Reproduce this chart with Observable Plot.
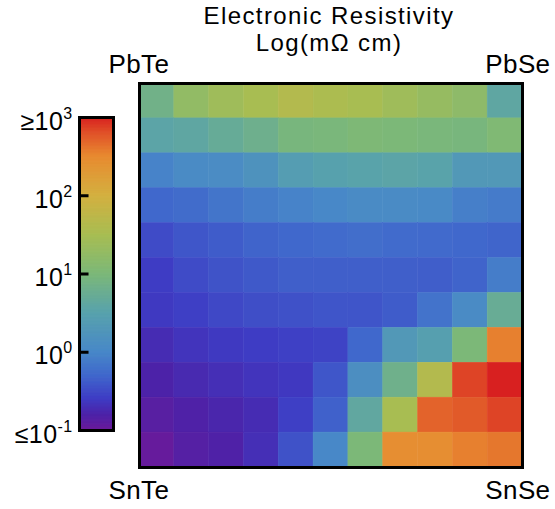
<!DOCTYPE html>
<html>
<head>
<meta charset="utf-8">
<script src="https://cdn.jsdelivr.net/npm/d3@7"></script>
<script src="https://cdn.jsdelivr.net/npm/@observablehq/plot@0.6"></script>
<style>
  body { margin: 0; background: #fff; }
  #wrap { position: relative; width: 555px; height: 509px; }
  #wrap svg { position: absolute; left: 0; top: 0; }
  #wrap text { letter-spacing: 0.4px; }
  #wrap text.title-text { letter-spacing: 1.4px; }
</style>
</head>
<body>
<div id="wrap"></div>
<script>
// Log10 resistivity (mΩ cm); rows: PbTe→SnTe (top→bottom), columns: Te→Se (left→right)
const row0  = [0.85, 1.25, 1.4, 1.5, 1.62, 1.55, 1.5, 1.4, 1.3, 1.2, 0.6];
const row1  = [0.55, 0.6, 0.7, 0.8, 0.95, 0.97, 1.02, 1.0, 0.97, 0.95, 1.05];
const row2  = [-0.05, 0.05, 0.08, 0.2, 0.4, 0.48, 0.52, 0.55, 0.52, 0.3, 0.3];
const row3  = [-0.3, -0.26, -0.18, -0.1, -0.05, 0.0, 0.05, 0.05, 0.03, -0.08, -0.12];
const row4  = [-0.5, -0.42, -0.38, -0.33, -0.3, -0.27, -0.24, -0.27, -0.28, -0.3, -0.32];
const row5  = [-0.6, -0.5, -0.44, -0.4, -0.36, -0.36, -0.36, -0.36, -0.37, -0.33, -0.1];
const row6  = [-0.62, -0.58, -0.52, -0.48, -0.46, -0.43, -0.43, -0.38, -0.2, 0.05, 0.72];
const row7  = [-0.72, -0.66, -0.62, -0.6, -0.57, -0.55, -0.3, 0.3, 0.45, 1.0, 2.55];
const row8  = [-0.8, -0.74, -0.7, -0.66, -0.63, -0.42, 0.12, 0.82, 1.62, 2.85, 3.0];
const row9  = [-0.88, -0.82, -0.77, -0.72, -0.58, -0.35, 0.62, 1.5, 2.7, 2.75, 2.85];
const row10 = [-0.97, -0.86, -0.82, -0.7, -0.45, 0.0, 1.0, 2.45, 2.45, 2.55, 2.6];
const rows = [row0, row1, row2, row3, row4, row5, row6, row7, row8, row9, row10];

const cornerLabels = ["PbTe", "PbSe", "SnTe", "SnSe"];
const titleText = "Electronic Resistivity\nLog(mΩ cm)";

// colour bar ticks
const tickValues = [-1, 0, 1, 2, 3];
const tickPrefixes = ["≤", "", "", "", "≥"];
const tickExponents = ["-1", "0", "1", "2", "3"];

// colour map stops
const stopValues = [-1.0, -0.8, -0.6, -0.3, 0.0, 0.5, 1.0, 1.5, 2.0, 2.5, 2.8, 3.0];
const stopColors = ["#6a1a9a", "#4c22a8", "#3e3cc4", "#4068cc", "#4888c8", "#58a2ac",
                    "#7cb878", "#a8bd52", "#d4b040", "#e88a30", "#e05028", "#d82020"];

const cells = rows.flatMap((r, i) => r.map((v, j) => ({row: i, col: j, v})));
const colorScale = {type: "linear", domain: stopValues, range: stopColors, clamp: true, interpolate: "rgb"};
const font = "'Liberation Sans', Arial, Helvetica, sans-serif";

const main = Plot.plot({
  width: 555, height: 509,
  marginLeft: 139, marginRight: 33, marginTop: 83, marginBottom: 42,
  style: {fontFamily: font, background: "transparent", color: "#000"},
  x: {type: "band", domain: d3.range(11), padding: 0, round: false, axis: null},
  y: {type: "band", domain: d3.range(11), padding: 0, round: false, axis: null},
  color: colorScale,
  marks: [
    Plot.cell(cells, {x: "col", y: "row", fill: "v", inset: 0, stroke: "v", strokeWidth: 0.5}),
    Plot.frame({stroke: "#000", strokeWidth: 3}),
    Plot.text([cornerLabels[0]], {frameAnchor: "top-left", textAnchor: "start", lineAnchor: "bottom", dx: -31, dy: -11, fontSize: 26, fill: "#000"}),
    Plot.text([cornerLabels[1]], {frameAnchor: "top-right", textAnchor: "end", lineAnchor: "bottom", dx: 28, dy: -11, fontSize: 26, fill: "#000"}),
    Plot.text([cornerLabels[2]], {frameAnchor: "bottom-left", textAnchor: "start", lineAnchor: "bottom", dx: -31, dy: 31, fontSize: 26, fill: "#000"}),
    Plot.text([cornerLabels[3]], {frameAnchor: "bottom-right", textAnchor: "end", lineAnchor: "bottom", dx: 28, dy: 31, fontSize: 26, fill: "#000"}),
    Plot.text([titleText], {frameAnchor: "top", textAnchor: "middle", lineAnchor: "bottom", dx: -2, dy: -33, fontSize: 24, lineHeight: 1.125, fill: "#000"})
  ]
});

const ramp = d3.range(-1, 3, 0.01).map(v => ({v}));
const ticksData = tickValues.map((v, i) => ({v, label: tickPrefixes[i] + "10", exp: tickExponents[i]}));

const bar = Plot.plot({
  width: 555, height: 509,
  marginLeft: 79, marginRight: 442, marginTop: 117, marginBottom: 79,
  style: {fontFamily: font, background: "transparent", color: "#000"},
  x: {domain: [0, 1], axis: null},
  y: {domain: [-1, 3], axis: null},
  color: colorScale,
  marks: [
    Plot.rect(ramp, {x1: 0, x2: 1, y1: "v", y2: d => d.v + 0.015, fill: "v", stroke: "v", strokeWidth: 0.6}),
    Plot.ruleY(tickValues.slice(1, 4), {x1: 0, x2: 0.28, stroke: "#000", strokeWidth: 3}),
    Plot.frame({stroke: "#000", strokeWidth: 3}),
    Plot.text(ticksData, {x: 0, y: "v", text: "label", textAnchor: "end", lineAnchor: "bottom", dx: -7, dy: 12, fontSize: 25, fill: "#000"})
  ]
});

// add superscript exponents
bar.querySelectorAll('g[aria-label="text"] text').forEach((t, i) => {
  const ts = document.createElementNS("http://www.w3.org/2000/svg", "tspan");
  ts.setAttribute("dy", "-11");
  ts.setAttribute("font-size", "16");
  ts.textContent = ticksData[i].exp;
  t.appendChild(ts);
});
// title letter spacing
const textGroups = main.querySelectorAll('g[aria-label="text"]');
textGroups[textGroups.length - 1].querySelectorAll("text").forEach(t => t.classList.add("title-text"));

document.getElementById("wrap").append(main, bar);
</script>
</body>
</html>
